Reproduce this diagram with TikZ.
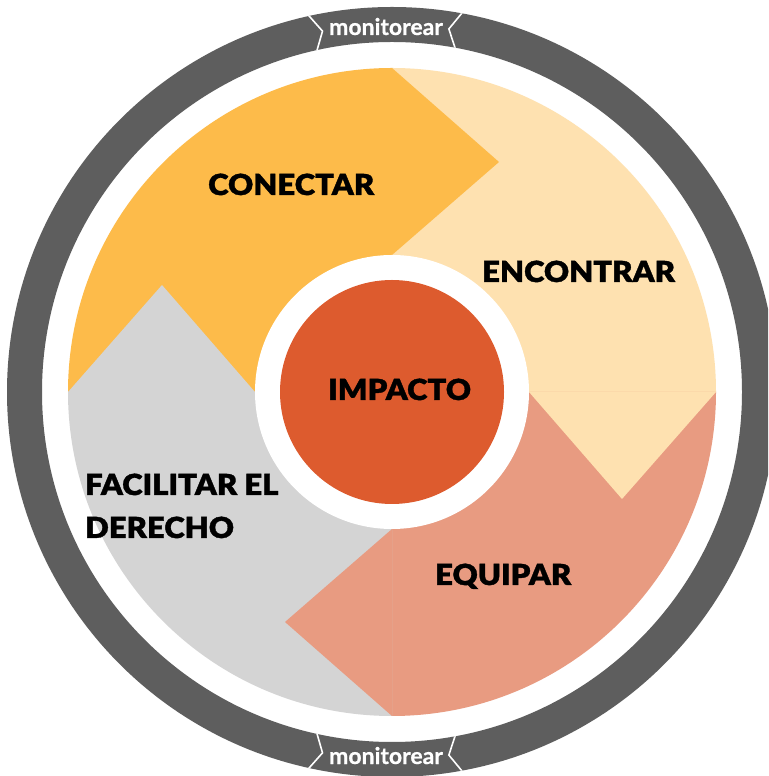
\documentclass[tikz,border=0pt]{standalone}
\usepackage{fontspec}
\newfontfamily\heavy{Lato Black}[FakeStretch=1.07, FakeBold=1.2]
\newfontfamily\lab{Lato}[UprightFont=* Bold, FakeBold=0.6]
\definecolor{cyel}{RGB}{253,187,74}
\definecolor{cpea}{RGB}{254,225,176}
\definecolor{csal}{RGB}{232,155,129}
\definecolor{cgry}{RGB}{212,212,212}
\definecolor{corg}{RGB}{221,91,46}
\definecolor{cring}{RGB}{94,94,94}
\tikzset{
  seg/.style={inner sep=0pt, anchor=base west, font=\heavy\fontsize{29}{34}\selectfont, text=black},
  mon/.style={inner sep=0pt, anchor=base, font=\lab\fontsize{23}{26}\selectfont, text=white},
  chev/.style={draw=white, line width=1.6pt, line join=miter}
}
\begin{document}
\begin{tikzpicture}[x=1pt,y=1pt]
\useasboundingbox (0,0) rectangle (768,776);
\clip (0,0) rectangle (768,776);
\fill[white] (0,0) rectangle (768,776);
\begin{scope}[shift={(392,384)}]
  % outer ring
  \fill[cring, even odd rule] (0,0) circle[radius=385] (0,0) circle[radius=350];
  % quadrants
  \fill[cyel] (0,0) -- (90:324) arc[start angle=90, end angle=180, radius=324] -- cycle;
  \fill[cpea] (0,0) -- (0:324) arc[start angle=0, end angle=90, radius=324] -- cycle;
  \fill[csal] (0,0) -- (270:324) arc[start angle=270, end angle=360, radius=324] -- cycle;
  \fill[cgry] (0,0) -- (180:324) arc[start angle=180, end angle=270, radius=324] -- cycle;
  % arrow points
  \fill[cyel] (0,324) -- (107,230) -- (0,137) -- cycle;
  \fill[cpea] (324,0) -- (230,-107) -- (137,0) -- cycle;
  \fill[csal] (0,-324) -- (-107,-230) -- (0,-137) -- cycle;
  \fill[cgry] (-324,0) -- (-230,107) -- (-137,0) -- cycle;
  % centre
  \fill[white] (0,0) circle[radius=137];
  \node[circle, fill=corg, minimum size=224pt, inner sep=0pt] (imp) at (0,0) {};
  % chevrons on the ring
  \begin{scope}[even odd rule]
    \clip (0,0) circle[radius=385] (0,0) circle[radius=350];
    \coordinate (tl1) at (103:392); \coordinate (tl2) at (100.9:367.5); \coordinate (tl3) at (103:343);
    \coordinate (tr1) at (79:392); \coordinate (tr2) at (81.1:367.5); \coordinate (tr3) at (79:343);
    \coordinate (bl1) at (257:392); \coordinate (bl2) at (259.1:367.5); \coordinate (bl3) at (257:343);
    \coordinate (br1) at (281:392); \coordinate (br2) at (278.9:367.5); \coordinate (br3) at (281:343);
    \draw[chev] (tl1) -- (tl2) -- (tl3);
    \draw[chev] (tr1) -- (tr2) -- (tr3);
    \draw[chev] (bl1) -- (bl2) -- (bl3);
    \draw[chev] (br1) -- (br2) -- (br3);
  \end{scope}
  \node[mon] (mtop) at (-6,357) {monitorear};
  \node[mon] (mbot) at (-6,-372) {monitorear};
  % labels
  \node[seg] (con) at (-184,197) {CONECTAR};
  \node[seg] (enc) at (90,110) {ENCONTRAR};
  \node[seg] (fac1) at (-307,-103) {FACILITAR EL};
  \node[seg] (fac2) at (-307,-146) {DERECHO};
  \node[seg] (equ) at (43,-193) {EQUIPAR};
  \node[seg] (impt) at (-64,-8) {IMPACTO};
\end{scope}
\end{tikzpicture}
\end{document}
